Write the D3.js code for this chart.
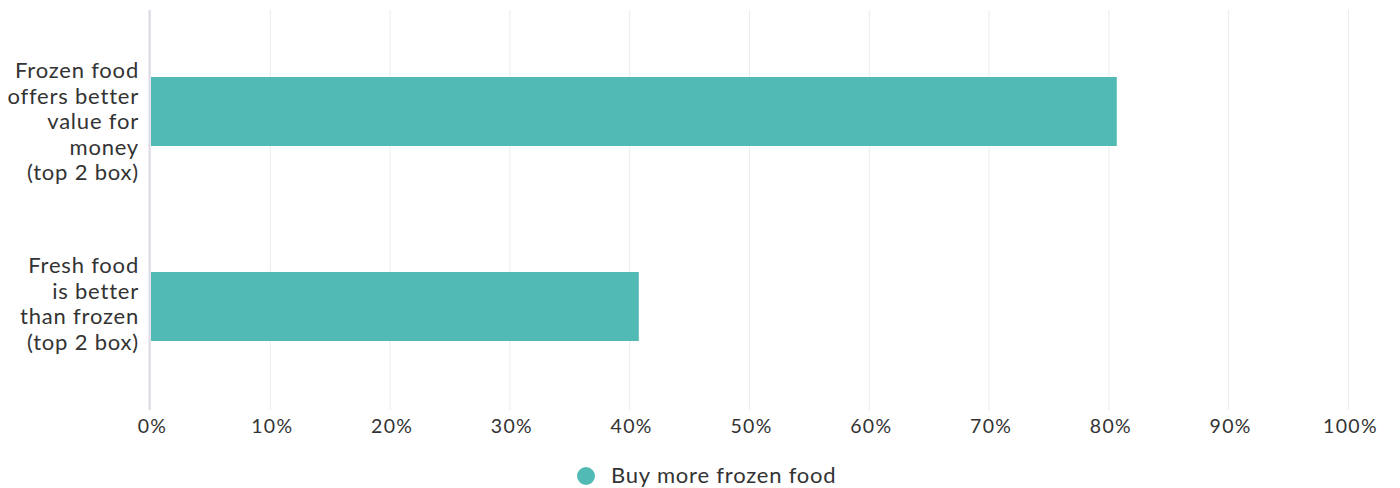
<!DOCTYPE html>
<html>
<head>
<meta charset="utf-8">
<script src="https://cdn.jsdelivr.net/npm/d3@7"></script>
<style>
  body { margin: 0; background: #fff; }
  svg { display: block; font-family: Lato, "Open Sans", sans-serif; }
</style>
</head>
<body>
<svg width="1400" height="488"></svg>
<script>
// chart data
const categories = [
  ['Frozen food', 'offers better', 'value for', 'money', '(top 2 box)'],
  ['Fresh food', 'is better', 'than frozen', '(top 2 box)']
];
const values = [80.7, 40.8];
const seriesName = 'Buy more frozen food';
const ticks = [0, 10, 20, 30, 40, 50, 60, 70, 80, 90, 100];

const color = '#52bab5';
const textColor = '#333333';

let svg = d3.select('svg');
let plot = { left: 150, right: 1348, top: 10, bottom: 410 };

// x scale (percent)
let x = d3.scaleLinear()
  .domain([0, 100])
  .range([plot.left, plot.right]);

// y band scale for the two categories
let y = d3.scaleBand()
  .domain(d3.range(categories.length))
  .range([14, 404])
  .paddingInner(0.646)
  .paddingOuter(0.323);

// gridlines
svg.append('g')
  .selectAll('line')
  .data(ticks)
  .join('line')
  .attr('x1', d => x(d) + 0.5)
  .attr('x2', d => x(d) + 0.5)
  .attr('y1', plot.top)
  .attr('y2', plot.bottom)
  .attr('stroke', '#ececec')
  .attr('stroke-width', 1);

// left axis line
svg.append('line')
  .attr('x1', plot.left - 0.5)
  .attr('x2', plot.left - 0.5)
  .attr('y1', plot.top)
  .attr('y2', plot.bottom)
  .attr('stroke', '#dcdce8')
  .attr('stroke-width', 2);

// bars
svg.append('g')
  .selectAll('rect')
  .data(values)
  .join('rect')
  .attr('x', x(0) + 1)
  .attr('y', (d, i) => y(i))
  .attr('width', d => x(d) - x(0) - 1)
  .attr('height', y.bandwidth())
  .attr('fill', color);

// category labels
let lineH = 25.5;
svg.append('g')
  .selectAll('text')
  .data(categories)
  .join('text')
  .attr('text-anchor', 'end')
  .attr('fill', textColor)
  .attr('font-size', '22px')
  .attr('letter-spacing', '0.8px')
  .each(function (lines, i) {
    let cy = y(i) + y.bandwidth() / 2;
    d3.select(this).selectAll('tspan')
      .data(lines)
      .join('tspan')
      .attr('x', 139)
      .attr('y', (l, j) => cy - 33.5 + j * lineH)
      .text(l => l);
  });

// x tick labels
svg.append('g')
  .selectAll('text')
  .data(ticks)
  .join('text')
  .attr('x', d => x(d) + 2.5)
  .attr('y', 433)
  .attr('text-anchor', 'middle')
  .attr('fill', textColor)
  .attr('font-size', '19.5px')
  .attr('letter-spacing', '1.3px')
  .text(d => d + '%');

// legend
let legend = svg.append('g');
legend.append('circle')
  .attr('cx', 586)
  .attr('cy', 476)
  .attr('r', 9)
  .attr('fill', color);
legend.append('text')
  .attr('x', 611)
  .attr('y', 483)
  .attr('fill', textColor)
  .attr('font-size', '22px')
  .attr('letter-spacing', '0.8px')
  .text(seriesName);
</script>
</body>
</html>
